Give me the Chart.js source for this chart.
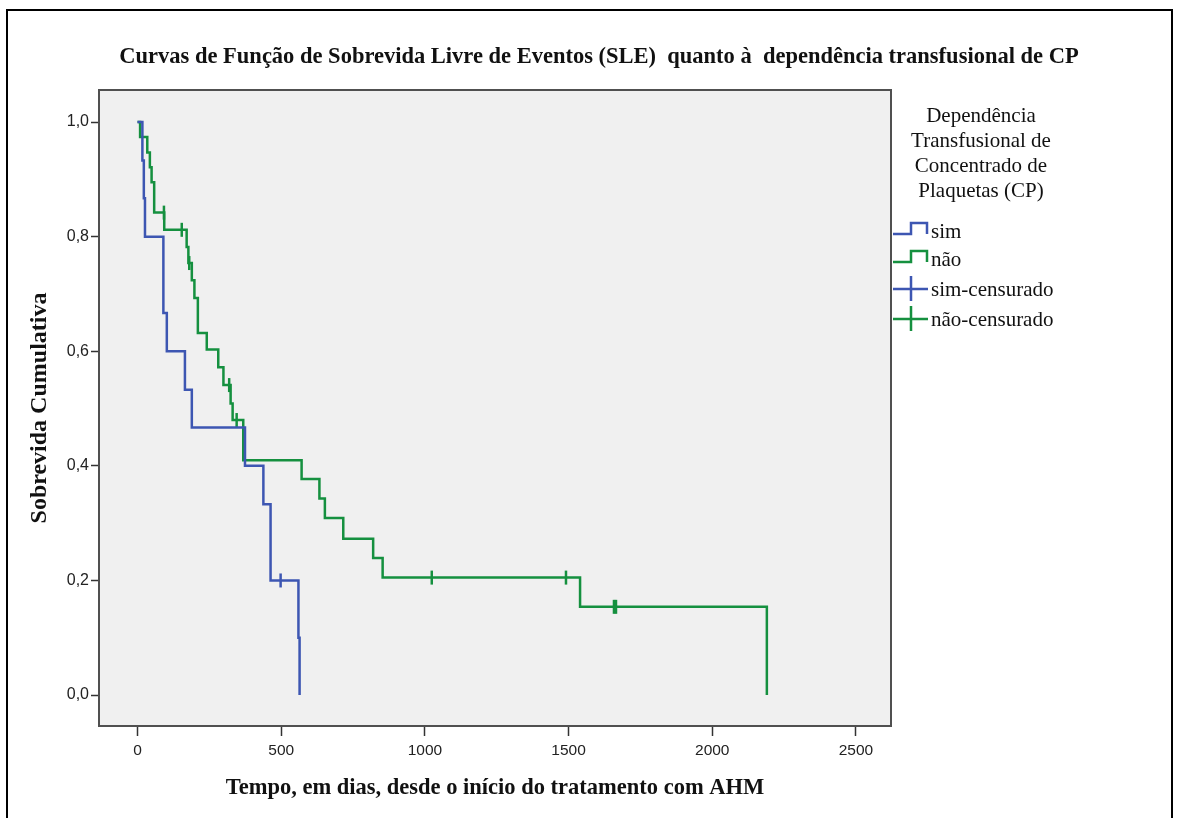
<!DOCTYPE html>
<html lang="pt">
<head>
<meta charset="utf-8">
<title>Curvas de Sobrevida Livre de Eventos</title>
<script src="https://cdn.jsdelivr.net/npm/chart.js@4.4.1/dist/chart.umd.min.js"></script>
<style>
  html, body { margin: 0; padding: 0; background: #fff; }
  #wrap { width: 1178px; height: 818px; }
</style>
</head>
<body>
<div id="wrap"><canvas id="sleChart" width="1178" height="818"></canvas></div>
<script>
// grupo "sim" (dependente de CP): tempo em dias e sobrevida cumulativa
const simTempo = [0, 17, 22, 26, 90, 102, 165, 189, 374, 438, 463, 560, 564];
const simSobrevida = [1, 0.933, 0.867, 0.8, 0.667, 0.6, 0.533, 0.467, 0.4, 0.333, 0.2, 0.1, 0];
const simCensTempo = [498];
const simCensSobrevida = [0.2];

// grupo "não"
const naoTempo = [0, 9, 34, 43, 49, 58, 93, 171, 177, 189, 198, 210, 241, 281, 299, 324, 331, 368, 571, 633, 652, 716, 820, 853, 1540, 2190];
const naoSobrevida = [1, 0.974, 0.947, 0.921, 0.895, 0.842, 0.812, 0.782, 0.754, 0.724, 0.693, 0.632, 0.603, 0.572, 0.541, 0.509, 0.48, 0.41, 0.377, 0.343, 0.309, 0.273, 0.239, 0.205, 0.154, 0];
const naoCensTempo = [92, 154, 180, 319, 345, 1024, 1491, 1658, 1665];
const naoCensSobrevida = [0.842, 0.812, 0.754, 0.541, 0.48, 0.205, 0.205, 0.154, 0.154];

const xTicks = [0, 500, 1000, 1500, 2000, 2500];
const yTicks = [0, 0.2, 0.4, 0.6, 0.8, 1.0];

const legendTitle = ['Dependência', 'Transfusional de', 'Concentrado de', 'Plaquetas (CP)'];
const legendItems = ['sim', 'não', 'sim-censurado', 'não-censurado'];

const AZUL = '#3d56b2';
const VERDE = '#15903f';
const SERIF = "'Liberation Serif', 'Times New Roman', serif";
const NARROW = "'Liberation Sans Narrow', 'Liberation Sans', Arial, sans-serif";

const pts = (xs, ys) => xs.map((t, i) => ({ x: t, y: ys[i] }));

// fundo cinza da área do gráfico + moldura externa
const framePlugin = {
    id: 'frame',
    beforeDraw(chart) {
        const { ctx, chartArea: a } = chart;
        ctx.save();
        ctx.fillStyle = '#f0f0f0';
        ctx.fillRect(a.left, a.top, a.right - a.left, a.bottom - a.top);
        ctx.restore();
    },
    afterDraw(chart) {
        const { ctx, chartArea: a } = chart;
        ctx.save();
        ctx.strokeStyle = '#505050';
        ctx.lineWidth = 2;
        ctx.strokeRect(a.left, a.top, a.right - a.left, a.bottom - a.top);
        ctx.strokeStyle = '#000';
        ctx.lineWidth = 2;
        ctx.beginPath();
        ctx.moveTo(7, 818);
        ctx.lineTo(7, 10);
        ctx.lineTo(1172, 10);
        ctx.lineTo(1172, 818);
        ctx.stroke();
        ctx.restore();
    }
};

// legenda à direita com ícones em degrau e de censura
const legendPlugin = {
    id: 'kmLegend',
    afterDraw(chart) {
        const ctx = chart.ctx;
        ctx.save();
        ctx.fillStyle = '#111';
        ctx.font = '21px ' + SERIF;
        ctx.textAlign = 'center';
        ctx.textBaseline = 'middle';
        legendTitle.forEach((line, i) => ctx.fillText(line, 981, 116 + i * 25));

        const rows = [232, 260, 290, 320];
        const cores = [AZUL, VERDE, AZUL, VERDE];
        ctx.lineWidth = 2.5;
        rows.forEach((y, i) => {
            ctx.strokeStyle = cores[i];
            ctx.beginPath();
            if (i < 2) {
                ctx.moveTo(893, y + 2);
                ctx.lineTo(911, y + 2);
                ctx.lineTo(911, y - 9);
                ctx.lineTo(927, y - 9);
                ctx.lineTo(927, y + 2);
            } else {
                ctx.moveTo(893, y - 1);
                ctx.lineTo(928, y - 1);
                ctx.moveTo(911, y - 14);
                ctx.lineTo(911, y + 11);
            }
            ctx.stroke();
        });
        ctx.textAlign = 'left';
        legendItems.forEach((txt, i) => ctx.fillText(txt, 931, rows[i]));
        ctx.restore();
    }
};

const censStyle = (cor) => ({
    type: 'line',
    showLine: false,
    borderColor: cor,
    backgroundColor: cor,
    pointStyle: 'line',
    pointRotation: 90,
    pointRadius: 7,
    pointBorderWidth: 2.5,
    pointHoverRadius: 7
});

new Chart(document.getElementById('sleChart'), {
    type: 'line',
    data: {
        datasets: [
            { label: 'sim', data: pts(simTempo, simSobrevida), borderColor: AZUL, borderWidth: 2.5, stepped: 'before', pointRadius: 0 },
            { label: 'não', data: pts(naoTempo, naoSobrevida), borderColor: VERDE, borderWidth: 2.5, stepped: 'before', pointRadius: 0 },
            Object.assign({ label: 'sim-censurado', data: pts(simCensTempo, simCensSobrevida) }, censStyle(AZUL)),
            Object.assign({ label: 'não-censurado', data: pts(naoCensTempo, naoCensSobrevida) }, censStyle(VERDE))
        ]
    },
    options: {
        responsive: false,
        animation: false,
        layout: { padding: { top: 10, left: 20, right: 0, bottom: 0 } },
        plugins: {
            legend: { display: false },
            tooltip: { enabled: false },
            title: {
                display: true,
                text: 'Curvas de Função de Sobrevida Livre de Eventos (SLE)  quanto à  dependência transfusional de CP',
                color: '#111',
                font: { family: SERIF, size: 22.5, weight: 'bold', lineHeight: 1.2 },
                padding: { top: 33.5, bottom: 19.5 }
            }
        },
        scales: {
            x: {
                type: 'linear',
                min: -134,
                max: 2622,
                afterFit: s => { s.height = 92; },
                afterBuildTicks: s => { s.ticks = xTicks.map(v => ({ value: v })); },
                grid: { drawOnChartArea: false, tickLength: 10, tickColor: '#333', tickWidth: 1.5 },
                border: { display: false },
                ticks: { color: '#222', font: { family: NARROW, size: 15.5 }, padding: 5, maxRotation: 0, callback: v => String(v) },
                title: {
                    display: true,
                    text: 'Tempo, em dias, desde o início do tratamento com AHM',
                    color: '#111',
                    font: { family: SERIF, size: 22.5, weight: 'bold', lineHeight: 1.2 },
                    padding: { top: 0, bottom: 16.5 }
                }
            },
            y: {
                min: -0.054,
                max: 1.056,
                afterFit: s => { s.width = 79; },
                afterBuildTicks: s => { s.ticks = yTicks.map(v => ({ value: v })); },
                grid: { drawOnChartArea: false, tickLength: 8, tickColor: '#333', tickWidth: 1.5 },
                border: { display: false },
                ticks: {
                    color: '#222',
                    font: { family: NARROW, size: 16 },
                    padding: 2,
                    callback: v => v.toFixed(1).replace('.', ',')
                },
                title: {
                    display: true,
                    text: 'Sobrevida Cumulativa',
                    color: '#111',
                    font: { family: SERIF, size: 24, weight: 'bold', lineHeight: 1.2 },
                    padding: { top: 5, bottom: 0 }
                }
            },
            // eixo vazio que reserva o espaço da legenda à direita
            espaco: {
                type: 'linear',
                position: 'right',
                afterFit: s => { s.width = 287; },
                grid: { display: false },
                border: { display: false },
                ticks: { display: false },
                title: { display: false }
            }
        }
    },
    plugins: [framePlugin, legendPlugin]
});
</script>
</body>
</html>
